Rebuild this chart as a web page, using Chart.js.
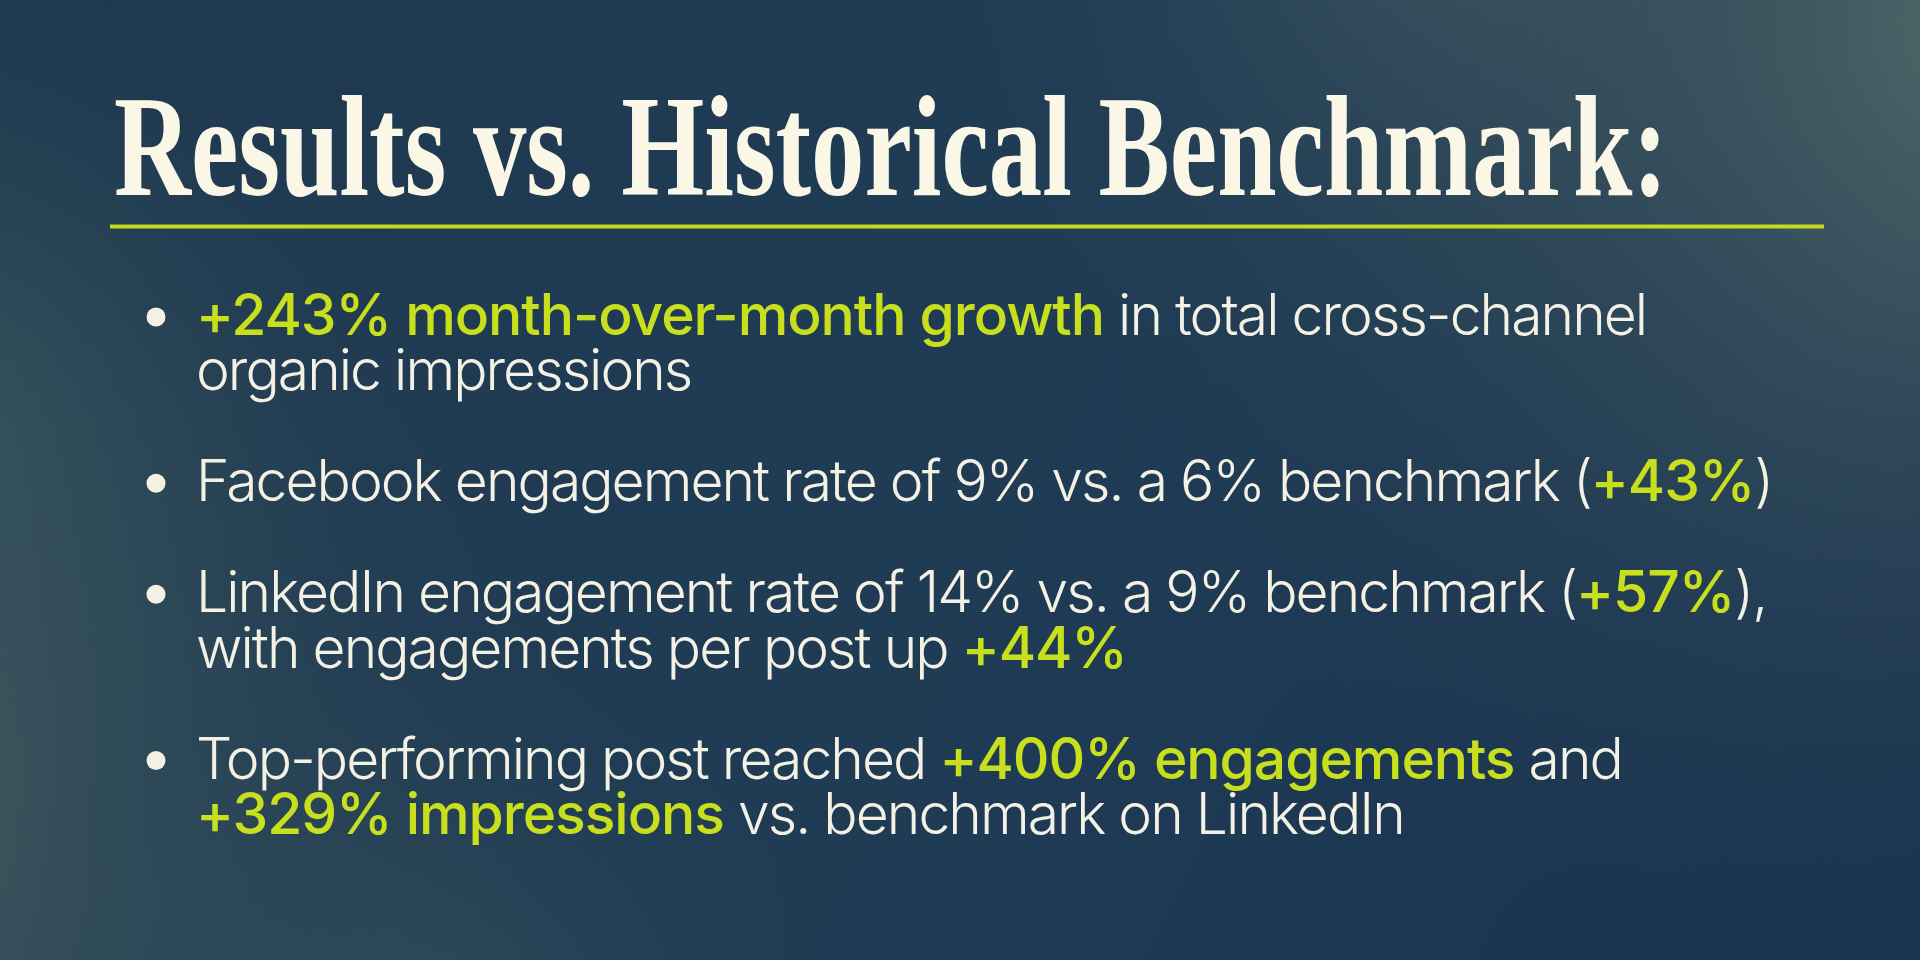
<!DOCTYPE html>
<html>
<head>
<meta charset="utf-8">
<title>Results vs. Historical Benchmark</title>
<script src="https://cdn.jsdelivr.net/npm/chart.js@4.4.1/dist/chart.umd.min.js"></script>
<style>
  html, body { margin: 0; padding: 0; background: #1e3850; overflow: hidden; }
  canvas { display: block; }
</style>
</head>
<body>
<canvas id="benchmark-slide" width="1920" height="960"></canvas>
<script>
// slide content: each bullet is a list of lines, each line a list of [text, highlighted]
const slideTitle = "Results vs. Historical Benchmark:";

const bulletGrowth = [
    [["+243% month-over-month growth", true], [" in total cross-channel", false]],
    [["organic impressions", false]]
];
const bulletFacebook = [
    [["Facebook engagement rate of 9% vs. a 6% benchmark (", false], ["+43%", true], [")", false]]
];
const bulletLinkedIn = [
    [["LinkedIn engagement rate of 14% vs. a 9% benchmark (", false], ["+57%", true], ["),", false]],
    [["with engagements per post up ", false], ["+44%", true]]
];
const bulletTopPost = [
    [["Top-performing post reached ", false], ["+400% engagements", true], [" and", false]],
    [["+329% impressions", true], [" vs. benchmark on LinkedIn", false]]
];
const bullets = [bulletGrowth, bulletFacebook, bulletLinkedIn, bulletTopPost];

const CREAM = "#f3f0e4";
const LIME = "#c8df1e";
const BODY_FONT = "Inter, 'Open Sans', sans-serif";
const BODY_SIZE = 57;
const LIME_EXTRA_SPACING = 0.9;

// line index for every row of text, one empty row between bullets
const bulletPoints = [];
const textRows = [];
let row = 0;
bullets.forEach(lines => {
    bulletPoints.push({x: 0, y: row});
    lines.forEach((segs, i) => textRows.push({y: row + i, segs: segs}));
    row += lines.length + 1;
});
const lastRow = row - 2;

function segFont(hi) {
    return (hi ? "500 " : "300 ") + BODY_SIZE + "px " + BODY_FONT;
}

const slidePlugin = {
    id: 'slide',
    beforeDraw(chart) {
        const ctx = chart.ctx;
        const w = chart.width, h = chart.height;
        ctx.save();
        const base = ctx.createLinearGradient(0, 0, w, h);
        base.addColorStop(0, "#1e394f");
        base.addColorStop(0.5, "#203c55");
        base.addColorStop(1, "#1a3350");
        ctx.fillStyle = base;
        ctx.fillRect(0, 0, w, h);

        const glows = [
            [1960, 20, 1000, "rgba(88,112,108,0.9)"],
            [1450, -120, 600, "rgba(72,97,100,0.55)"],
            [-200, 800, 860, "rgba(88,114,104,0.85)"],
            [-100, 430, 560, "rgba(70,100,100,0.55)"],
            [420, 1040, 480, "rgba(70,98,98,0.4)"]
        ];
        glows.forEach(([gx, gy, r, c]) => {
            const g = ctx.createRadialGradient(gx, gy, 0, gx, gy, r);
            g.addColorStop(0, c);
            g.addColorStop(1, "rgba(30,56,80,0)");
            ctx.fillStyle = g;
            ctx.fillRect(0, 0, w, h);
        });
        ctx.restore();
    },
    afterDraw(chart) {
        const ctx = chart.ctx;
        const area = chart.chartArea;
        const yScale = chart.scales.y;
        ctx.save();

        // title, a condensed bold serif
        ctx.fillStyle = "#fbf7e7";
        ctx.textBaseline = "alphabetic";
        ctx.font = "bold 144px 'Liberation Serif', 'DejaVu Serif', serif";
        const tw = ctx.measureText(slideTitle).width;
        ctx.save();
        ctx.translate(114, 195);
        ctx.scale(1554 / tw, 1);
        ctx.fillText(slideTitle, 0, 0);
        ctx.restore();

        // lime rule under the title
        ctx.fillStyle = "#c2da1f";
        ctx.fillRect(110, 224.5, area.right - 110, 4);

        // spread letters so the longest line spans the same width as the original
        const canSpace = 'letterSpacing' in ctx;
        let spacing = 0;
        if (canSpace) {
            const ref = textRows[2].segs;
            let w = 0, n = 0;
            ref.forEach(([t, hi]) => {
                ctx.font = segFont(hi);
                w += ctx.measureText(t).width + (hi ? LIME_EXTRA_SPACING * t.length : 0);
                n += t.length;
            });
            spacing = (1576 - w) / n;
        }

        textRows.forEach(r => {
            let x = area.left + 40;
            const y = yScale.getPixelForValue(r.y) + 18;
            r.segs.forEach(([t, hi]) => {
                ctx.font = segFont(hi);
                if (canSpace) {
                    ctx.letterSpacing = (spacing + (hi ? LIME_EXTRA_SPACING : 0)).toFixed(2) + "px";
                }
                ctx.fillStyle = hi ? LIME : CREAM;
                ctx.fillText(t, x, y);
                x += ctx.measureText(t).width;
            });
        });
        ctx.restore();
    }
};

const slide = new Chart(document.getElementById('benchmark-slide'), {
    type: 'scatter',
    data: {
        datasets: [{
            label: "bullets",
            data: bulletPoints,
            pointRadius: 9.5,
            pointHoverRadius: 9.5,
            pointBackgroundColor: CREAM,
            pointBorderWidth: 0,
            showLine: false,
            clip: false
        }]
    },
    options: {
        responsive: false,
        animation: false,
        events: [],
        layout: {
            padding: {left: 156, right: 96, top: 317, bottom: 144}
        },
        plugins: {
            legend: {display: false},
            tooltip: {enabled: false}
        },
        scales: {
            x: {type: 'linear', min: 0, max: 1, display: false},
            y: {type: 'linear', min: 0, max: lastRow, reverse: true, display: false}
        }
    },
    plugins: [slidePlugin]
});
</script>
</body>
</html>
